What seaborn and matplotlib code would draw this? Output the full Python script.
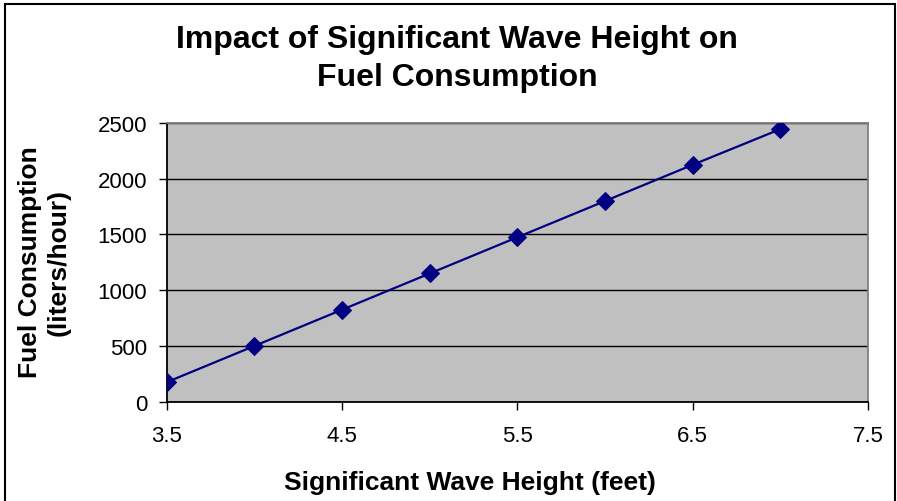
import matplotlib
matplotlib.use("Agg")
import matplotlib.pyplot as plt
import seaborn as sns
import pandas as pd
from matplotlib.patches import Rectangle

wave_height = [3.5, 4.0, 4.5, 5.0, 5.5, 6.0, 6.5, 7.0]
fuel = [175, 500, 825, 1150, 1475, 1800, 2125, 2445]
x_ticks = [3.5, 4.5, 5.5, 6.5, 7.5]
y_ticks = [0, 500, 1000, 1500, 2000, 2500]

sns.set_theme(style="white")
plt.rcParams['font.family'] = ['Liberation Sans', 'DejaVu Sans']

df = pd.DataFrame({"h": wave_height, "f": fuel})

W, H = 897, 502
fig = plt.figure(figsize=(W / 100, H / 100), dpi=100)
ax = fig.add_axes([166.7 / W, 1 - 402.7 / H, (868 - 166.7) / W, (402.7 - 124) / H])
ax.set_facecolor("#C0C0C0")

sns.lineplot(data=df, x="h", y="f", ax=ax, color="#000080", marker="D",
             markersize=9.5, markeredgecolor="#000080", linewidth=1.6, zorder=3)

ax.set_xlim(3.5, 7.5)
ax.set_ylim(0, 2500)
ax.set_xticks(x_ticks)
ax.set_xticklabels([f"{v:.1f}" for v in x_ticks])
ax.set_yticks(y_ticks)
ax.set_yticklabels([str(v) for v in y_ticks])
ax.yaxis.grid(True, color="black", linewidth=1)
ax.xaxis.grid(False)
ax.set_axisbelow(True)

for s in ["left", "bottom"]:
    ax.spines[s].set_color("black")
    ax.spines[s].set_linewidth(1.3)
for s in ["top", "right"]:
    ax.spines[s].set_color("#808080")
    ax.spines[s].set_linewidth(1.3)

ax.tick_params(axis="both", which="major", direction="out", length=6, width=1,
               color="black", labelsize=16, labelcolor="black", bottom=True, left=True)
ax.tick_params(axis="x", pad=11)
ax.tick_params(axis="y", pad=8)
ax.set_xlabel("")
ax.set_ylabel("")

fig.text(470 / W, 1 - 490 / H, "Significant Wave Height (feet)", fontsize=19,
         fontweight="bold", ha="center", va="baseline", color="black")

fig.text(37 / W, 1 - 262 / H, "Fuel Consumption", fontsize=19, fontweight="bold",
         rotation=90, rotation_mode="anchor", ha="center", va="baseline", color="black")
fig.text(66 / W, 1 - 262 / H, "(liters/hour)", fontsize=19, fontweight="bold",
         rotation=90, rotation_mode="anchor", ha="center", va="baseline", color="black")

fig.text(457 / W, 1 - 48 / H, "Impact of Significant Wave Height on", fontsize=23,
         fontweight="bold", ha="center", va="baseline", color="black")
fig.text(457 / W, 1 - 86 / H, "Fuel Consumption", fontsize=23,
         fontweight="bold", ha="center", va="baseline", color="black")

fig.patches.append(Rectangle((5 / W, -0.02), (895 - 5) / W, 1 - 5 / H + 0.02,
                             transform=fig.transFigure, fill=False,
                             edgecolor="black", linewidth=1.5))

fig.savefig("out.png", dpi=100)
